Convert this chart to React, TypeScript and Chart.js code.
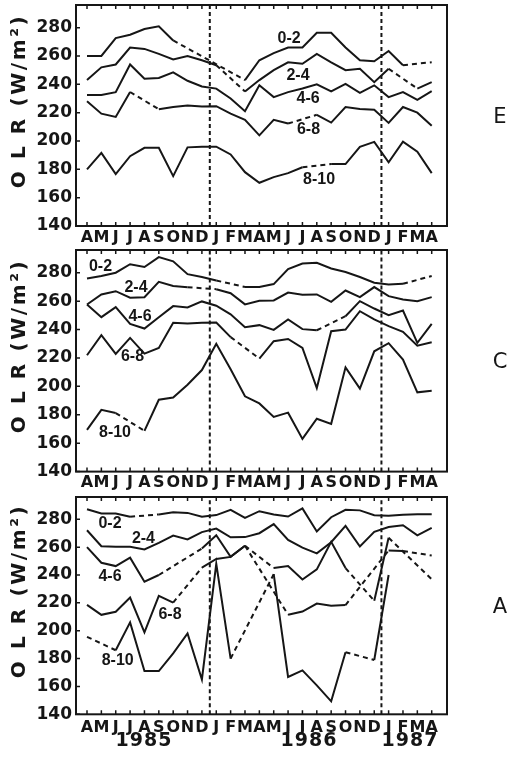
import React, { useEffect, useRef } from 'react';
import { Chart, registerables } from 'chart.js';

Chart.register(...registerables);

// ---------- data ----------
const MONTHS = ['A','M','J','J','A','S','O','N','D','J','F','M','A','M','J','J','A','S','O','N','D','J','F','M','A'];
const Y_TICKS = [140, 160, 180, 200, 220, 240, 260, 280];
const SERIES_NAMES = ['0-2', '2-4', '4-6', '6-8', '8-10'];
const YEARS = ['1985', '1986', '1987'];
const YEAR_BREAKS = [8.55, 20.5];

// Panel E
const E_02 = [260, 260, 272.6, 275, 279, 281, 271, null, null, null, null, 243, 257, 262, 266, 266, 276.4, 276.4, 266, 257, 256.3, 263.5, 253.5, null, 255.6];
const E_24 = [243, 252, 254, 266, 265, 261.5, 257.5, 260, 257, 253.5, null, 235, 243, 250, 255.5, 254.5, 261.5, 255.5, 250, 251, 241.5, 251, null, 237, 241.5];
const E_46 = [232.5, 232.5, 234.5, 254, 244, 244.5, 248.5, 242.5, 238.5, 237, 230, 221, 239.3, 231, 234.5, 237, 240, 235, 240.3, 234, 239.3, 231, 234.5, 229, 235.2];
const E_68 = [228, 219.3, 217, 234.6, null, 222.4, 224, 225, 224.4, 224.6, 219.3, 215, 204, 215, 212.3, null, 218.5, 213, 224, 222.6, 222, 212.8, 224, 220, 210.7];
const E_810 = [180, 191.6, 176.6, 189.3, 195.2, 195.2, 175.2, 195.5, 196, 196, 190.5, 178, 170.5, 174.5, 177.3, 181.5, null, 183.7, 183.7, 195.9, 199.4, 185, 199.6, 192.5, 177.3];

// Panel C
const C_02 = [276, 277.7, 280, 286, 284, 291, 288, 279, 277, 274.5, null, 270, 270, 272, 282.5, 286.5, 287, 283, 280.5, 277, 273, 271.8, 272.2, null, 277.7];
const C_24 = [257.6, 264.7, 267, 262.4, 262.8, 273.6, 270.6, 269.8, null, 268.4, 265.6, 257.7, 260.2, 260.5, 266, 264.5, 264.7, 259.5, 267.5, 262.8, 269.9, 263.5, 261.2, 260, 262.8];
const C_46 = [257.6, 248.7, 255.8, 244, 240.7, 248.7, 256.5, 255.5, 259.8, 256.8, 250.7, 241.7, 243.1, 239.8, 247.1, 240.3, 239.5, null, 249.4, 260, 254.8, 250.1, 253.4, 230.6, 244];
const C_68 = [221.9, 236, 222.8, 234.1, 223.1, 227.1, 244.7, 244.3, 244.8, 245, 234.7, null, 219.6, 231.8, 233.4, 227.1, 198.8, 238.8, 240, 252.9, 247.1, 242.4, 238.4, 228.7, 231.1];
const C_810 = [169.4, 183.5, 181.2, null, 168.7, 190.6, 192.2, 201.2, 211.5, 230, 212, 193, 188, 178.5, 181.5, 163, 177.2, 173.6, 213.4, 198.4, 224.7, 230.4, 218.8, 195.8, 196.9];

// Panel A
const A_02 = [287.2, 284.2, 284.2, 281.8, null, 283.5, 285, 284.6, 281.8, 283, 286.8, 281, 285.8, 283.5, 282, 287.8, 271.3, 281.5, 286.8, 286.4, 282.9, 282.5, 283.2, 283.7, 283.7];
const A_24 = [272.1, 260.7, 260.2, 260.2, 258.3, 263.1, 268.3, 265.5, 270.8, 273.3, 267.1, 267.2, 270, 276.5, 265.2, 259.6, 255.5, 263.5, 275.3, 260.5, 271, 274.5, 275.7, 268.5, 273.9];
const A_46 = [260, 248.8, 246.4, 252.4, 235.2, 240, null, null, 259, 268.6, 253, 261, null, 245, 246.5, 236.8, 244, 263.8, 245, null, 221.5, 266.7, null, null, 237];
const A_68 = [218.6, 211.4, 213.6, 223.8, 198.8, 225, 220.2, null, 245.3, 251.5, 253, 261, null, null, 211.5, 213.8, 219.5, 218, 218.4, null, null, 257.6, 257.2, null, 254];
const A_810 = [195.6, null, 186, 206, 171, 171, 183.7, 198, 165, 248, 180, null, null, 240.6, 166.8, 171.5, 160.8, 149.3, 184.6, null, 179, 240, null, null, null];

// series-label anchors (month index, OLR value)
const E_LABEL_AT = [[14.07, 272.4], [14.69, 246.3], [15.39, 229.8], [15.42, 208.3], [16.16, 173.1]];
const C_LABEL_AT = [[0.94, 284], [3.41, 269.8], [3.69, 249.1], [3.17, 221], [1.95, 167.4]];
const A_LABEL_AT = [[1.6, 276.6], [3.93, 265.8], [1.6, 238.8], [5.78, 211.6], [2.14, 178.8]];

// ---------- layout ----------
const Y_MIN = 140;
const Y_MAX = 296;
const X_MIN = -0.766;
const X_MAX = 25.065;
const INK = '#161616';

type PanelCfg = {
  name: string;
  series: (number | null)[][];
  labelAt: number[][];
  top: number;
  canvasH: number;
  areaH: number;
  tickPad: number;
};

const PANELS: PanelCfg[] = [
  { name: 'E', series: [E_02, E_24, E_46, E_68, E_810], labelAt: E_LABEL_AT, top: 0, canvasH: 248, areaH: 221, tickPad: 2 },
  { name: 'C', series: [C_02, C_24, C_46, C_68, C_810], labelAt: C_LABEL_AT, top: 245, canvasH: 250, areaH: 221.6, tickPad: 2 },
  { name: 'A', series: [A_02, A_24, A_46, A_68, A_810], labelAt: A_LABEL_AT, top: 492, canvasH: 267, areaH: 217.3, tickPad: 4 },
];

function framePlugin(labelAt: number[][]) {
  return {
    id: 'frameAndLabels',
    afterDatasetsDraw(chart: any) {
      const { ctx, chartArea: a, scales } = chart;
      const xs = scales.x;
      const ys = scales.y;
      ctx.save();
      ctx.strokeStyle = INK;
      ctx.lineWidth = 2;
      ctx.strokeRect(a.left, a.top, a.right - a.left, a.bottom - a.top);
      ctx.lineWidth = 1.5;
      ctx.beginPath();
      MONTHS.forEach((_, i) => {
        const x = xs.getPixelForValue(i);
        ctx.moveTo(x, a.top);
        ctx.lineTo(x, a.top + 4);
        ctx.moveTo(x, a.bottom);
        ctx.lineTo(x, a.bottom - 4);
      });
      Y_TICKS.forEach((v) => {
        const y = ys.getPixelForValue(v);
        ctx.moveTo(a.left, y);
        ctx.lineTo(a.left + 4, y);
      });
      ctx.stroke();
      ctx.fillStyle = INK;
      ctx.font = 'bold 16px "Liberation Sans"';
      ctx.textAlign = 'center';
      ctx.textBaseline = 'middle';
      SERIES_NAMES.forEach((n, k) => {
        const [lx, ly] = labelAt[k];
        ctx.fillText(n, xs.getPixelForValue(lx), ys.getPixelForValue(ly));
      });
      ctx.restore();
    },
  };
}

function makeConfig(p: PanelCfg): any {
  const axisH = p.canvasH - 5 - p.areaH;
  const lineSets = p.series.map((s, k) => ({
    label: SERIES_NAMES[k],
    data: s.map((v, i) => ({ x: i, y: v })),
    borderColor: INK,
    borderWidth: 2,
    pointRadius: 0,
    tension: 0,
    fill: false,
    spanGaps: true,
    segment: {
      borderDash: (ctx: any) => (ctx.p0.skip || ctx.p1.skip ? [5, 4] : undefined),
    },
  }));
  const breakSets = YEAR_BREAKS.map((b) => ({
    label: 'break',
    data: [{ x: b, y: Y_MIN }, { x: b, y: Y_MAX }],
    borderColor: INK,
    borderWidth: 2,
    borderDash: [4, 3],
    pointRadius: 0,
    fill: false,
  }));
  return {
    type: 'line',
    data: { datasets: [...lineSets, ...breakSets] },
    options: {
      animation: false,
      responsive: false,
      devicePixelRatio: 1,
      layout: { autoPadding: false, padding: { left: 0, right: 63, top: 5, bottom: 0 } },
      plugins: { legend: { display: false }, tooltip: { enabled: false } },
      scales: {
        x: {
          type: 'linear',
          min: X_MIN,
          max: X_MAX,
          grid: { display: false, drawTicks: false },
          border: { display: false },
          afterBuildTicks: (s: any) => {
            s.ticks = MONTHS.map((_, i) => ({ value: i }));
          },
          afterFit: (s: any) => {
            s.height = axisH;
            s.paddingLeft = 0;
            s.paddingRight = 0;
          },
          ticks: {
            autoSkip: false,
            maxRotation: 0,
            minRotation: 0,
            padding: p.tickPad,
            color: INK,
            font: { family: '"DejaVu Sans"', weight: 'bold', size: 16 },
            callback: (v: any) => MONTHS[Math.round(v)] ?? '',
          },
        },
        y: {
          type: 'linear',
          min: Y_MIN,
          max: Y_MAX,
          grid: { display: false, drawTicks: false },
          border: { display: false },
          afterBuildTicks: (s: any) => {
            s.ticks = Y_TICKS.map((v) => ({ value: v }));
          },
          afterFit: (s: any) => {
            s.width = 76;
            s.paddingTop = 0;
            s.paddingBottom = 0;
          },
          ticks: {
            padding: 4,
            color: INK,
            font: { family: '"DejaVu Sans"', weight: 'bold', size: 17 },
          },
        },
      },
    },
    plugins: [framePlugin(p.labelAt)],
  };
}

function Panel({ p }: { p: PanelCfg }) {
  const ref = useRef<HTMLCanvasElement>(null);
  useEffect(() => {
    const chart = new Chart(ref.current as HTMLCanvasElement, makeConfig(p));
    return () => chart.destroy();
  }, [p]);
  return (
    <canvas
      ref={ref}
      width={510}
      height={p.canvasH}
      style={{ position: 'absolute', left: 0, top: p.top, width: 510, height: p.canvasH, display: 'block' }}
    />
  );
}

const YEAR_X = [144, 309, 410];

export default function App() {
  return (
    <div style={{ position: 'absolute', left: 0, top: 0, width: 510, height: 759, background: '#fff', overflow: 'hidden', color: INK }}>
      {PANELS.map((p) => (
        <Panel key={p.name} p={p} />
      ))}
      {PANELS.map((p) => (
        <div
          key={'t' + p.name}
          style={{
            position: 'absolute',
            left: 17.5,
            top: p.top + 5 + p.areaH / 2 - 15,
            transform: 'translate(-50%, -50%) rotate(-90deg)',
            whiteSpace: 'nowrap',
            font: 'bold 20px "DejaVu Sans"',
            letterSpacing: '2.6px',
            lineHeight: '20px',
          }}
        >
          O L R (W/m²)
        </div>
      ))}
      {PANELS.map((p) => (
        <div
          key={'n' + p.name}
          style={{
            position: 'absolute',
            left: 500,
            top: p.top + 5 + p.areaH / 2,
            transform: 'translate(-50%, -50%)',
            font: '21px "DejaVu Sans"',
            lineHeight: '21px',
          }}
        >
          {p.name}
        </div>
      ))}
      {YEARS.map((y, k) => (
        <div
          key={y}
          style={{
            position: 'absolute',
            left: YEAR_X[k],
            top: 739,
            transform: 'translate(-50%, -50%)',
            font: 'bold 19px "DejaVu Sans"',
            lineHeight: '19px',
            letterSpacing: '1px',
          }}
        >
          {y}
        </div>
      ))}
    </div>
  );
}
